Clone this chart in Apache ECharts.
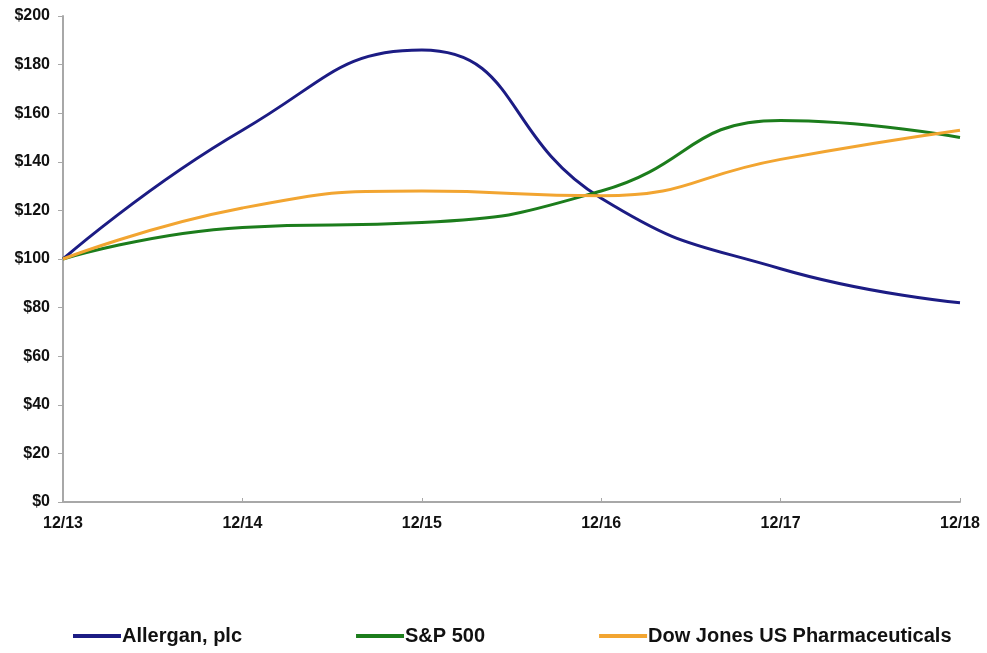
<!DOCTYPE html>
<html>
<head>
<meta charset="utf-8">
<script src="https://cdn.jsdelivr.net/npm/echarts@6/dist/echarts.min.js"></script>
<style>
html,body{margin:0;padding:0;background:#fff;}
#chart{width:987px;height:653px;}
</style>
</head>
<body>
<div id="chart"></div>
<script>
var categories = ['12/13', '12/14', '12/15', '12/16', '12/17', '12/18'];
var allergan = [100, 153, 186, 125, 96, 82];
var sp500 = [100, 113, 115, 128, 157, 150];
var dowJonesPharma = [100, 121, 128, 126, 141, 153];
var seriesNames = ['Allergan, plc', 'S&P 500', 'Dow Jones US Pharmaceuticals'];
var yTicks = [0, 20, 40, 60, 80, 100, 120, 140, 160, 180, 200];

var colors = ['#1c1c84', '#1c7d1c', '#f2a531'];
var font = '"Liberation Sans", Arial, sans-serif';

var chart = echarts.init(document.getElementById('chart'), null, {renderer: 'canvas'});
function mk(name, data, color) {
  return {
    name: name, type: 'line', data: data, smooth: 0.5,
    symbol: 'none', lineStyle: {width: 3, color: color}, itemStyle: {color: color}
  };
}
chart.setOption({
  animation: false,
  backgroundColor: '#fff',
  grid: {left: 63, right: 27, top: 16, bottom: 151, containLabel: false},
  legend: {
    bottom: 2, left: 68, itemGap: 114, itemWidth: 48, itemHeight: 4,
    icon: 'rect',
    textStyle: {fontFamily: font, fontWeight: 'bold', fontSize: 20, color: '#111', padding: [0, 0, 0, -4]},
    data: seriesNames
  },
  xAxis: {
    type: 'category', data: categories, boundaryGap: false,
    axisLine: {lineStyle: {color: '#a8a8a8', width: 2}},
    axisTick: {inside: true, length: 4, lineStyle: {color: '#a8a8a8'}},
    axisLabel: {fontFamily: font, fontWeight: 'bold', fontSize: 16, color: '#111', margin: 14},
    splitLine: {show: false}
  },
  yAxis: {
    type: 'value', min: 0, max: 200, interval: 20,
    axisLine: {show: true, lineStyle: {color: '#a8a8a8', width: 2}},
    axisTick: {show: true, length: 5, lineStyle: {color: '#a8a8a8'}},
    axisLabel: {fontFamily: font, fontWeight: 'bold', fontSize: 16, color: '#111', margin: 13,
      formatter: function (v) { return yTicks.indexOf(v) >= 0 ? '$' + v : ''; }},
    splitLine: {show: false}
  },
  series: [
    mk(seriesNames[0], allergan, colors[0]),
    mk(seriesNames[1], sp500, colors[1]),
    mk(seriesNames[2], dowJonesPharma, colors[2])
  ]
});
</script>
</body>
</html>
